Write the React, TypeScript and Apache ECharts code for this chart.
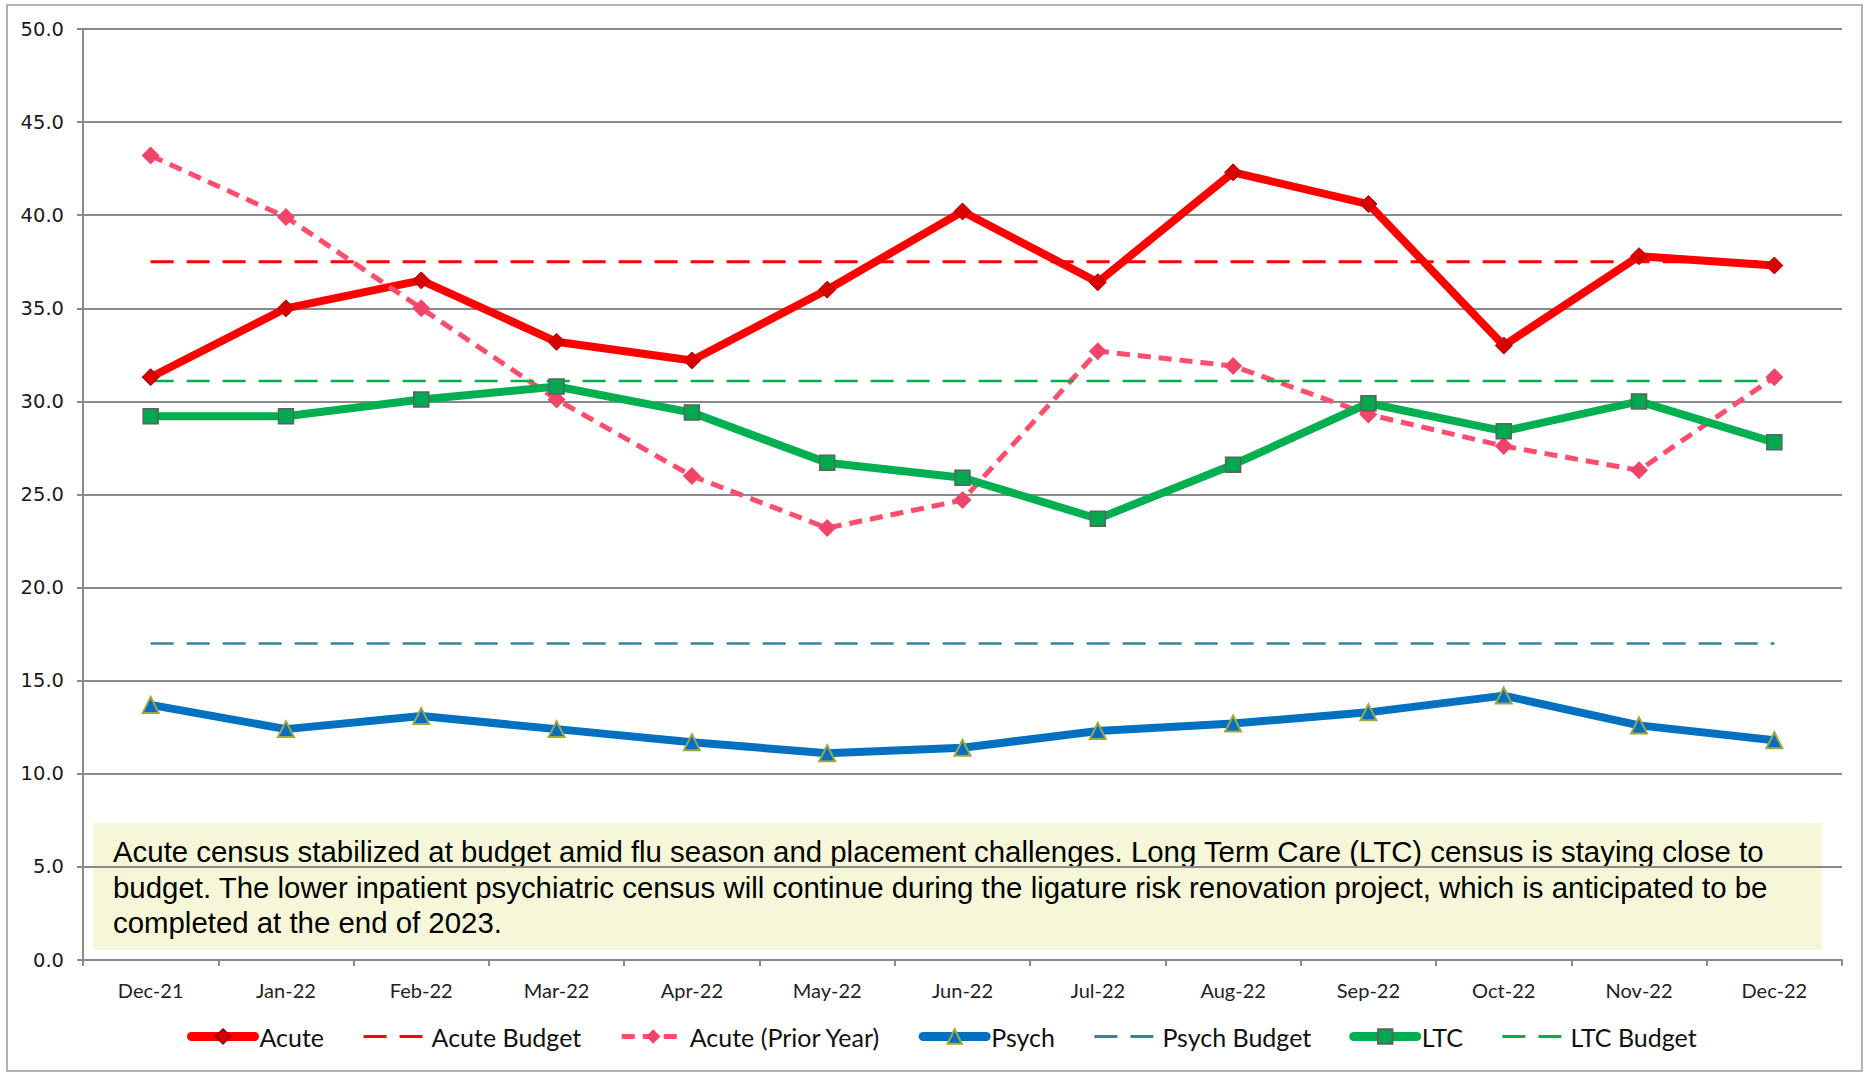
import React, { useEffect, useRef } from "react";
import * as echarts from "echarts";

const categories = ["Dec-21", "Jan-22", "Feb-22", "Mar-22", "Apr-22", "May-22", "Jun-22", "Jul-22", "Aug-22", "Sep-22", "Oct-22", "Nov-22", "Dec-22"];
const acute = [31.3, 35.0, 36.5, 33.2, 32.2, 36.0, 40.2, 36.4, 42.3, 40.6, 33.0, 37.8, 37.3];
const acuteBudget = [37.5, 37.5, 37.5, 37.5, 37.5, 37.5, 37.5, 37.5, 37.5, 37.5, 37.5, 37.5, 37.5];
const acutePrior = [43.2, 39.9, 35.0, 30.1, 26.0, 23.2, 24.7, 32.7, 31.9, 29.3, 27.6, 26.3, 31.3];
const psych = [13.7, 12.4, 13.1, 12.4, 11.7, 11.1, 11.4, 12.3, 12.7, 13.3, 14.2, 12.6, 11.8];
const psychBudget = [17.0, 17.0, 17.0, 17.0, 17.0, 17.0, 17.0, 17.0, 17.0, 17.0, 17.0, 17.0, 17.0];
const ltc = [29.2, 29.2, 30.1, 30.8, 29.4, 26.7, 25.9, 23.7, 26.6, 29.9, 28.4, 30.0, 27.8];
const ltcBudget = [31.1, 31.1, 31.1, 31.1, 31.1, 31.1, 31.1, 31.1, 31.1, 31.1, 31.1, 31.1, 31.1];
const yTicks = { min: 0, max: 50, interval: 5 };
const noteLines = [
  "Acute census stabilized at budget amid flu season and placement challenges. Long Term Care (LTC) census is staying close to",
  "budget. The lower inpatient psychiatric census will continue during the ligature risk renovation project, which is anticipated to be",
  "completed at the end of 2023.",
];

export default function App() {
  const ref = useRef<HTMLDivElement>(null);
  useEffect(() => {
    if (!ref.current) return;
    const chart = echarts.init(ref.current, null, { renderer: "svg" });
    const gray = "#8a8a8a";
    const budgetDash = [23, 13];
    const option: any = {
      animation: false,
      backgroundColor: "#ffffff",
      grid: { left: 83, right: 23, top: 29, bottom: 114, containLabel: false },
      xAxis: {
        type: "category",
        data: categories,
        boundaryGap: true,
        axisLine: { lineStyle: { color: gray, width: 2 } },
        axisTick: { show: true, length: 6, alignWithLabel: false, lineStyle: { color: gray, width: 2 } },
        axisLabel: { fontFamily: "Lato", fontSize: 20, color: "#222", margin: 20 },
        splitLine: { show: false },
      },
      yAxis: {
        type: "value",
        min: yTicks.min,
        max: yTicks.max,
        interval: yTicks.interval,
        axisLine: { show: true, lineStyle: { color: gray, width: 2 } },
        axisTick: { show: true, length: 6, lineStyle: { color: gray, width: 2 } },
        axisLabel: { fontFamily: "DejaVu Sans", fontSize: 19.5, color: "#1a1a1a", margin: 19, formatter: (v: number) => v.toFixed(1) },
        splitLine: { show: true, lineStyle: { color: gray, width: 2 } },
      },
      legend: {
        bottom: 20,
        left: 182,
        itemWidth: 63,
        itemHeight: 18,
        itemGap: 38,
        textStyle: { fontFamily: "Lato", fontSize: 25, color: "#111" },
        data: [
          { name: "Acute", lineStyle: { width: 9, cap: "round" } },
          { name: "Acute Budget", itemStyle: { opacity: 0 }, lineStyle: { width: 3 } },
          { name: "Acute (Prior Year)", lineStyle: { width: 5 } },
          { name: "Psych", lineStyle: { width: 9, cap: "round" } },
          { name: "Psych Budget", itemStyle: { opacity: 0 }, lineStyle: { width: 3 } },
          { name: "LTC", lineStyle: { width: 9, cap: "round" } },
          { name: "LTC Budget", itemStyle: { opacity: 0 }, lineStyle: { width: 3 } },
        ],
      },
      series: [
        {
          name: "Acute", type: "line", data: acute, symbol: "diamond", symbolSize: 17,
          lineStyle: { color: "#ff0000", width: 8 },
          itemStyle: { color: "#d80000", borderColor: "#a80000", borderWidth: 1 },
        },
        {
          name: "Acute Budget", type: "line", data: acuteBudget, symbol: "none",
          lineStyle: { color: "#ff0000", width: 3, type: budgetDash },
          itemStyle: { color: "#ff0000" },
        },
        {
          name: "Acute (Prior Year)", type: "line", data: acutePrior, symbol: "diamond", symbolSize: 18,
          lineStyle: { color: "#ff4d6d", width: 5, type: [13, 8] },
          itemStyle: { color: "#f0456a" },
        },
        {
          name: "Psych", type: "line", data: psych, symbol: "triangle", symbolSize: 16,
          lineStyle: { color: "#0070c0", width: 8 },
          itemStyle: { color: "#0a6cc4", borderColor: "#9aab3c", borderWidth: 2 },
        },
        {
          name: "Psych Budget", type: "line", data: psychBudget, symbol: "none",
          lineStyle: { color: "#31859c", width: 2.5, type: budgetDash },
          itemStyle: { color: "#31859c" },
        },
        {
          name: "LTC", type: "line", data: ltc, symbol: "rect", symbolSize: 15,
          lineStyle: { color: "#00b050", width: 8 },
          itemStyle: { color: "#00a94f", borderColor: "#606060", borderWidth: 1.5 },
        },
        {
          name: "LTC Budget", type: "line", data: ltcBudget, symbol: "none",
          lineStyle: { color: "#00b050", width: 2.5, type: budgetDash },
          itemStyle: { color: "#00b050" },
        },
      ],
      graphic: [
        {
          type: "rect", z: 0, silent: true,
          shape: { x: 7, y: 5, width: 1855, height: 1066 },
          style: { fill: "none", stroke: "#9a9a9a", lineWidth: 1.5 },
        },
        {
          type: "group", z: 100,
          children: [
            {
              type: "rect",
              shape: { x: 93, y: 823, width: 1729, height: 127 },
              style: { fill: "#f5f7d8" },
            },
            {
              type: "text",
              x: 113, y: 834,
              style: {
                text: noteLines.join("\n"),
                fontFamily: "Liberation Sans",
                fontSize: 29.4,
                lineHeight: 35.5,
                fill: "#000",
                verticalAlign: "top",
                align: "left",
              },
            },
          ],
        },
      ],
    };
    chart.setOption(option);
    return () => chart.dispose();
  }, []);
  return <div ref={ref} style={{ position: "fixed", left: 0, top: 0, width: 1865, height: 1074 }} />;
}
